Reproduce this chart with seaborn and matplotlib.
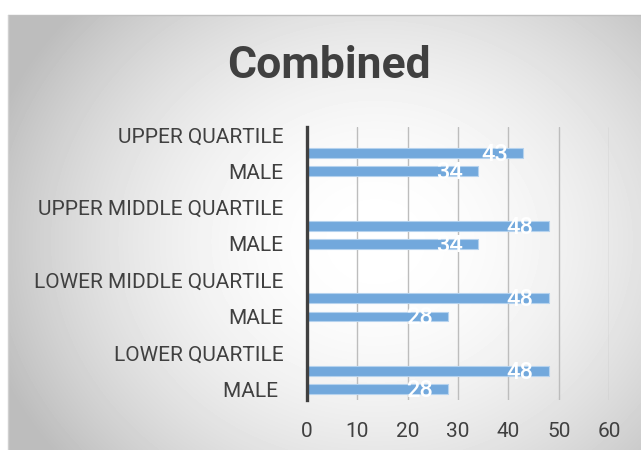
import numpy as np
import pandas as pd
import matplotlib
matplotlib.use("Agg")
import matplotlib.pyplot as plt
import seaborn as sns

# ---- data ----
categories = ["UPPER QUARTILE", "MALE", "UPPER MIDDLE QUARTILE", "MALE",
              "LOWER MIDDLE QUARTILE", "MALE", "LOWER QUARTILE", "MALE "]
female_values = [43, 48, 48, 48]
male_values = [34, 34, 28, 28]
x_ticks = [0, 10, 20, 30, 40, 50, 60]
title = "Combined"

sns.set_theme(style="white")
plt.rcParams["font.family"] = ["Roboto", "DejaVu Sans"]

TXT = "#404040"
BAR = "#72a8dc"

W, H = 641, 450
fig = plt.figure(figsize=(W / 100, H / 100), dpi=100)
fig.patch.set_facecolor("white")

# ---- radial gradient chart background ----
bx0, by0 = 8, 15
bw, bh = W - bx0, H - by0
bg = fig.add_axes([bx0 / W, 0, bw / W, bh / H])
yy, xx = np.mgrid[0:bh, 0:bw]
cx, cy = 0.58 * bw, 0.52 * bh
r = np.sqrt(((xx - cx) / (bw * 0.6)) ** 2 + ((yy - cy) / (bh * 0.75)) ** 2)
v = np.clip(1 - 0.23 * r ** 2, 0.74, 1.0)
bg.imshow(v, cmap="gray", vmin=0, vmax=1, aspect="auto", interpolation="bilinear")
bg.set_axis_off()
fig.add_artist(plt.Line2D([bx0 / W, 1], [1 - by0 / H, 1 - by0 / H],
                          color="#bfbfbf", lw=1, transform=fig.transFigure))
fig.add_artist(plt.Line2D([bx0 / W, bx0 / W], [0, 1 - by0 / H],
                          color="#d0d0d0", lw=1, transform=fig.transFigure))

# ---- data frame ----
n = len(female_values)
pos_f = [2 * i + 0.5 for i in range(n)]
pos_m = [2 * i + 1 for i in range(n)]
df = pd.DataFrame({
    "pos": pos_f + pos_m,
    "value": female_values + male_values,
    "series": ["Female"] * n + ["Male"] * n,
})

ax = fig.add_axes([307 / W, 50 / H, 302 / W, 273 / H])
ax.patch.set_alpha(0)
sns.barplot(data=df, x="value", y="pos", orient="h", native_scale=True,
            width=0.55, color=BAR, edgecolor="#b5d2ee", linewidth=0.8,
            saturation=1, ax=ax, zorder=3)

ax.set_xlim(0, 60)
ax.set_ylim(7.3, -0.22)
ax.set_xticks(x_ticks)
ax.set_xticklabels([str(t) for t in x_ticks])
ax.set_yticks(range(len(categories)))
ax.set_yticklabels(categories)
ax.set_xlabel("")
ax.set_ylabel("")
ax.tick_params(axis="both", length=0, labelsize=15, colors=TXT)
ax.tick_params(axis="y", pad=17)
ax.tick_params(axis="x", pad=16)

ax.grid(axis="x", color="#bdbdbd", lw=1, zorder=0)
ax.grid(axis="y", visible=False)
for s in ["top", "right", "bottom"]:
    ax.spines[s].set_visible(False)
ax.spines["left"].set_color(TXT)
ax.spines["left"].set_linewidth(2.4)
ax.spines["left"].set_zorder(5)

# value labels
for p in ax.patches:
    w = p.get_width()
    yc = p.get_y() + p.get_height() / 2
    ax.annotate(f"{int(round(w))}", xy=(w, yc), xytext=(-11, -1),
                textcoords="offset points", ha="right", va="center",
                color="white", fontsize=17, fontweight="medium", zorder=6)

fig.text(329 / W, 1 - 66 / H, title, ha="center", va="center",
         fontsize=32, fontweight="bold", color=TXT)

fig.savefig("out.png", dpi=100)
